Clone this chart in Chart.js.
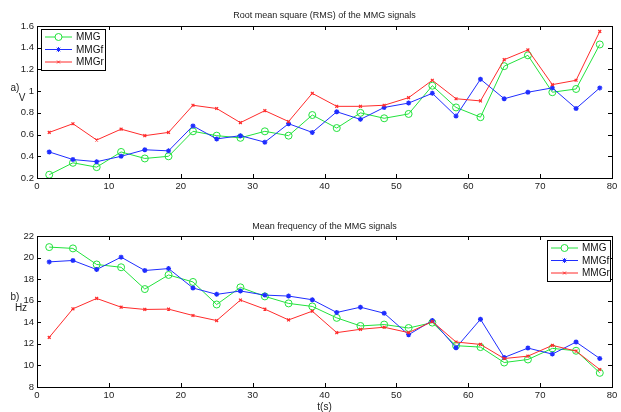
<!DOCTYPE html>
<html lang="en">
<head>
<meta charset="UTF-8">
<script src="https://cdn.jsdelivr.net/npm/chart.js"></script>
<title>MMG signals</title>
<style>
    body { margin: 0; background: #fff; }
    .wrap { position: absolute; left: 0; width: 621px; height: 206px; }
    #top { top: 0; }
    #bottom { top: 206px; }
</style>
</head>
<body>
<div class="wrap" id="top"><canvas id="rmsChart"></canvas></div>
<div class="wrap" id="bottom"><canvas id="freqChart"></canvas></div>
<script>
// time points (s)
const times = [1.7, 5.0, 8.3, 11.7, 15.0, 18.3, 21.7, 25.0, 28.3, 31.7, 35.0, 38.3,
               41.7, 45.0, 48.3, 51.7, 55.0, 58.3, 61.7, 65.0, 68.3, 71.7, 75.0, 78.3];

// RMS (V)
const rmsMMG  = [0.23, 0.34, 0.30, 0.44, 0.38, 0.40, 0.63, 0.59, 0.57, 0.63, 0.59, 0.78,
                 0.66, 0.80, 0.75, 0.79, 1.05, 0.85, 0.76, 1.23, 1.33, 0.99, 1.02, 1.43];
const rmsMMGf = [0.44, 0.37, 0.35, 0.40, 0.46, 0.45, 0.68, 0.56, 0.59, 0.53, 0.70, 0.62,
                 0.81, 0.74, 0.85, 0.89, 0.98, 0.77, 1.11, 0.93, 0.99, 1.03, 0.84, 1.03];
const rmsMMGr = [0.62, 0.70, 0.55, 0.65, 0.59, 0.62, 0.87, 0.84, 0.71, 0.82, 0.72, 0.98,
                 0.86, 0.86, 0.87, 0.94, 1.10, 0.93, 0.91, 1.29, 1.38, 1.06, 1.10, 1.55];

// mean frequency (Hz)
const mfMMG  = [20.97, 20.85, 19.36, 19.10, 17.08, 18.39, 17.74, 15.65, 17.24, 16.40, 15.75, 15.47,
                14.41, 13.66, 13.79, 13.47, 13.97, 11.83, 11.70, 10.27, 10.55, 11.58, 11.36, 9.31];
const mfMMGf = [19.60, 19.73, 18.89, 20.04, 18.80, 18.98, 17.18, 16.59, 16.90, 16.52, 16.43, 16.09,
                14.91, 15.40, 14.84, 12.85, 14.16, 11.64, 14.28, 10.74, 11.61, 11.05, 12.17, 10.64];
const mfMMGr = [12.60, 15.25, 16.21, 15.40, 15.19, 15.22, 14.63, 14.16, 16.06, 15.22, 14.22, 15.03,
                13.04, 13.35, 13.54, 13.04, 14.07, 12.17, 11.95, 10.64, 10.86, 11.86, 11.33, 9.62];

const xTicks = [0, 10, 20, 30, 40, 50, 60, 70, 80];
const rmsTicks = [0.2, 0.4, 0.6, 0.8, 1, 1.2, 1.4, 1.6];
const mfTicks = [8, 10, 12, 14, 16, 18, 20, 22];

const seriesNames = ['MMG', 'MMGf', 'MMGr'];
const GREEN = '#22e23c', BLUE = '#1f2dff', RED = '#ff2b2b';
const FONT = '"Liberation Sans", Arial, sans-serif';

function makeSets(a, b, c) {
    const pts = arr => arr.map((v, i) => ({ x: times[i], y: v }));
    // order: red drawn last (on top), like the original plot
    return [
        { label: 'MMG', data: pts(a), order: 3, borderColor: GREEN, backgroundColor: 'rgba(0,0,0,0)',
          pointStyle: 'circle', pointRadius: 3.5, pointBorderColor: GREEN, pointBorderWidth: 1, borderWidth: 1 },
        { label: 'MMGf', data: pts(b), order: 2, borderColor: BLUE, backgroundColor: BLUE,
          pointStyle: 'star', pointRadius: 2.5, pointBorderColor: BLUE, pointBorderWidth: 1.3, borderWidth: 1 },
        { label: 'MMGr', data: pts(c), order: 1, borderColor: RED, backgroundColor: RED,
          pointStyle: 'crossRot', pointRadius: 2, pointBorderColor: RED, pointBorderWidth: 1.2, borderWidth: 1 }
    ];
}

// draws the matlab style box, inward ticks, title, labels and legend
const axesPlugin = {
    id: 'matlabAxes',
    afterDraw(chart, args, opts) {
        const ctx = chart.ctx;
        const a = chart.chartArea;
        const xs = chart.scales.x, ys = chart.scales.y;
        ctx.save();
        ctx.strokeStyle = '#000';
        ctx.lineWidth = 1;
        ctx.strokeRect(a.left + 0.5, a.top + 0.5, a.right - a.left, a.bottom - a.top);
        const tl = 4;
        ctx.beginPath();
        xs.ticks.forEach(t => {
            const px = Math.round(xs.getPixelForValue(t.value)) + 0.5;
            ctx.moveTo(px, a.bottom); ctx.lineTo(px, a.bottom - tl);
            ctx.moveTo(px, a.top); ctx.lineTo(px, a.top + tl);
        });
        ys.ticks.forEach(t => {
            const py = Math.round(ys.getPixelForValue(t.value)) + 0.5;
            ctx.moveTo(a.left, py); ctx.lineTo(a.left + tl, py);
            ctx.moveTo(a.right, py); ctx.lineTo(a.right - tl, py);
        });
        ctx.stroke();

        ctx.fillStyle = '#222';
        ctx.font = '9px ' + FONT;
        ctx.textAlign = 'center';
        ctx.textBaseline = 'middle';
        ctx.fillText(opts.title, (a.left + a.right) / 2, opts.titleY);
        ctx.font = '10px ' + FONT;
        ctx.fillText(opts.tag, opts.tagX, opts.tagY);
        ctx.fillText(opts.unit, opts.unitX, opts.unitY);
        if (opts.xlabel) ctx.fillText(opts.xlabel, (a.left + a.right) / 2, opts.xlabelY);

        // legend
        const L = opts.legend;
        ctx.fillStyle = '#fff';
        ctx.fillRect(L.x, L.y, L.w, L.h);
        ctx.strokeStyle = '#000';
        ctx.strokeRect(L.x + 0.5, L.y + 0.5, L.w, L.h);
        ctx.textAlign = 'left';
        chart.data.datasets.forEach((ds, i) => {
            const y = L.y + L.first + i * L.step;
            ctx.strokeStyle = ds.borderColor;
            ctx.lineWidth = 1;
            ctx.beginPath();
            ctx.moveTo(L.x + 4, y); ctx.lineTo(L.x + 4 + L.line, y);
            ctx.stroke();
            Chart.helpers.drawPoint(ctx, {
                pointStyle: ds.pointStyle, radius: ds.pointRadius, borderWidth: ds.pointBorderWidth, rotation: 0
            }, L.x + 4 + L.line / 2, y);
            ctx.fillStyle = '#111';
            ctx.fillText(seriesNames[i], L.x + 8 + L.line, y + 0.5);
        });
        ctx.restore();
    }
};

function makeChart(id, sets, yMin, yMax, yTicks, top, xH, plug) {
    return new Chart(document.getElementById(id).getContext('2d'), {
        type: 'line',
        data: { datasets: sets },
        options: {
            responsive: true,
            maintainAspectRatio: false,
            animation: false,
            layout: { padding: { top: top, right: 9, left: 0, bottom: 0 } },
            plugins: { legend: { display: false }, tooltip: { enabled: false }, matlabAxes: plug },
            elements: { line: { tension: 0 } },
            scales: {
                x: {
                    type: 'linear', min: 0, max: 80,
                    afterBuildTicks: s => { s.ticks = xTicks.map(v => ({ value: v })); },
                    afterFit: s => { s.height = xH; },
                    grid: { display: false, drawTicks: false }, border: { display: false },
                    ticks: { color: '#222', font: { family: FONT, size: 9.5 }, padding: 3, maxRotation: 0,
                             callback: v => String(v) }
                },
                y: {
                    min: yMin, max: yMax,
                    afterBuildTicks: s => { s.ticks = yTicks.map(v => ({ value: v })); },
                    afterFit: s => { s.width = 37; },
                    grid: { display: false, drawTicks: false }, border: { display: false },
                    ticks: { color: '#222', font: { family: FONT, size: 9.5 }, padding: 3,
                             callback: v => String(v) }
                }
            }
        },
        plugins: [axesPlugin]
    });
}

makeChart('rmsChart', makeSets(rmsMMG, rmsMMGf, rmsMMGr), 0.2, 1.6, rmsTicks, 26, 28, {
    title: 'Root mean square (RMS) of the MMG signals', titleY: 16,
    tag: 'a)', tagX: 15, tagY: 88, unit: 'V', unitX: 22, unitY: 98,
    legend: { x: 41, y: 29, w: 64, h: 41, first: 8, step: 12.5, line: 27 }
});

makeChart('freqChart', makeSets(mfMMG, mfMMGf, mfMMGr), 8, 22, mfTicks, 30, 25, {
    title: 'Mean frequency of the MMG signals', titleY: 21,
    tag: 'b)', tagX: 15, tagY: 91, unit: 'Hz', unitX: 21, unitY: 102,
    xlabel: 't(s)', xlabelY: 201,
    legend: { x: 547, y: 34, w: 63, h: 41, first: 8, step: 12.5, line: 27 }
});
</script>
</body>
</html>
